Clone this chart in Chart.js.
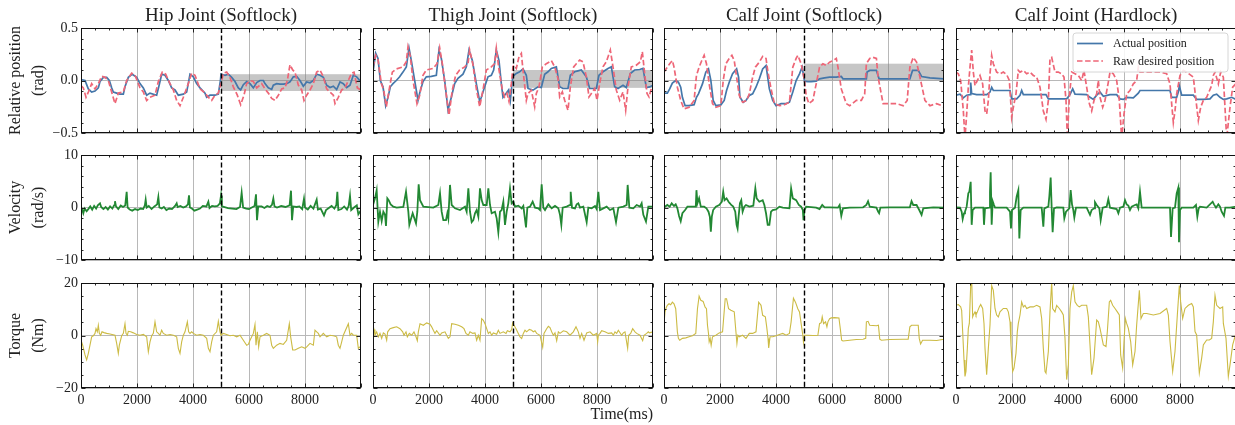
<!DOCTYPE html>
<html><head><meta charset="utf-8">
<script src="https://cdn.jsdelivr.net/npm/chart.js@4.4.0/dist/chart.umd.min.js"></script>
<style>
html,body{margin:0;padding:0;background:#fff;overflow:hidden;width:1235px;height:425px;position:relative;}
canvas{position:absolute;left:0;top:0;}
</style></head><body>
<script>
// ---------------- DATA ----------------
const jointTitles = ['Hip Joint (Softlock)', 'Thigh Joint (Softlock)', 'Calf Joint (Softlock)', 'Calf Joint (Hardlock)'];
const rowLabels = [['Relative position', '(rad)'], ['Velocity', '(rad/s)'], ['Torque', '(Nm)']];
const seriesLabels = ['Actual position', 'Raw desired position'];
const timeTicks = [0, 2000, 4000, 6000, 8000];
const timeTickLabels = ['0', '2000', '4000', '6000', '8000'];
const posTicks = [-0.5, 0, 0.5];
const posTickLabels = ['\u22120.5', '0.0', '0.5'];
const velTicks = [-10, 0, 10];
const velTickLabels = ['\u221210', '0', '10'];
const torTicks = [-20, 0, 20];
const torTickLabels = ['\u221220', '0', '20'];
const lockTime = 5000;
const softlockBands = [[-0.10, 0.06], [-0.07, 0.10], [0.0, 0.16], null];

// [time ms, value]
const hipPosActual = [[0,0.01],[143,0.0],[262,-0.08],[381,-0.11],[500,-0.10],[619,-0.07],[679,-0.01],[798,0.03],[917,0.03],[1012,0.0],[1095,-0.07],[1155,-0.11],[1274,-0.12],[1393,-0.13],[1512,-0.13],[1571,-0.06],[1690,0.03],[1833,0.06],[1988,0.03],[2107,-0.03],[2226,-0.07],[2345,-0.14],[2464,-0.12],[2702,-0.14],[2786,-0.05],[2881,0.06],[3000,0.05],[3119,0.0],[3238,-0.07],[3357,-0.09],[3476,-0.14],[3655,-0.13],[3774,-0.11],[3893,0.06],[4012,0.035],[4131,-0.03],[4250,-0.07],[4429,-0.12],[4488,-0.16],[4607,-0.14],[4786,-0.14],[4905,-0.13],[4980,0.0],[5000,0.06],[5143,0.05],[5262,0.06],[5381,0.03],[5500,-0.01],[5619,-0.07],[5702,-0.09],[5798,-0.04],[5917,-0.01],[6036,-0.03],[6155,-0.07],[6274,-0.02],[6393,0.0],[6512,0.0],[6571,-0.03],[6690,-0.07],[6810,-0.085],[6869,-0.045],[6988,-0.03],[7107,-0.035],[7226,-0.035],[7345,-0.03],[7464,-0.013],[7583,0.035],[7702,0.04],[7821,0.0],[7940,-0.055],[8060,-0.013],[8179,-0.022],[8298,0.0],[8417,0.06],[8536,0.05],[8655,0.03],[8774,-0.045],[8893,-0.067],[9012,-0.054],[9131,-0.086],[9250,-0.013],[9369,-0.03],[9488,-0.067],[9607,-0.045],[9726,0.05],[9845,0.035],[10000,-0.013]];
const hipPosDesired = [[0,-0.05],[83,-0.07],[179,-0.16],[262,-0.11],[381,-0.03],[500,-0.08],[619,-0.03],[738,0.04],[857,0.03],[976,0.0],[1095,-0.11],[1214,-0.22],[1333,-0.12],[1512,-0.11],[1631,0.0],[1810,0.07],[1929,0.05],[2107,-0.07],[2226,-0.11],[2345,-0.19],[2464,-0.16],[2643,-0.14],[2762,-0.01],[2905,0.08],[3024,0.06],[3179,-0.03],[3298,-0.09],[3417,-0.19],[3536,-0.24],[3655,-0.16],[3833,-0.03],[3952,0.07],[4071,0.05],[4250,-0.08],[4429,-0.12],[4548,-0.16],[4667,-0.19],[4786,-0.14],[4905,-0.12],[5000,-0.03],[5083,0.07],[5202,0.08],[5321,0.03],[5440,-0.06],[5583,-0.14],[5702,-0.23],[5821,-0.14],[5917,-0.03],[6036,0.0],[6155,-0.01],[6274,-0.07],[6452,-0.03],[6571,-0.08],[6690,-0.12],[6810,-0.17],[6929,-0.19],[7048,-0.14],[7167,-0.08],[7286,-0.07],[7369,0.0],[7464,0.15],[7560,0.10],[7643,0.08],[7762,-0.045],[7881,-0.09],[7964,-0.19],[8060,-0.14],[8179,-0.09],[8298,-0.03],[8417,0.08],[8536,0.10],[8655,0.035],[8774,-0.08],[8893,-0.11],[9012,-0.14],[9071,-0.22],[9190,-0.16],[9310,-0.09],[9429,-0.07],[9548,0.0],[9667,0.07],[9750,0.08],[9869,-0.07],[10000,-0.09]];
const thighPosActual = [[0,0.08],[95,0.26],[179,0.21],[262,0.0],[357,-0.06],[452,-0.24],[536,-0.16],[619,-0.06],[714,-0.03],[833,0.0],[952,0.035],[1071,0.08],[1190,0.13],[1286,0.31],[1369,0.19],[1488,0.0],[1607,-0.19],[1667,-0.12],[1786,-0.01],[1905,0.035],[2083,0.04],[2262,0.05],[2357,0.29],[2440,0.21],[2560,0.0],[2679,-0.28],[2798,-0.16],[2917,-0.03],[3036,0.02],[3214,0.06],[3333,0.13],[3429,0.29],[3548,0.19],[3690,-0.03],[3810,-0.2],[3869,-0.16],[3988,-0.06],[4107,0.035],[4226,0.05],[4310,0.1],[4405,0.29],[4500,0.19],[4583,-0.03],[4643,-0.16],[4762,-0.12],[4845,-0.09],[4905,-0.19],[4976,0.0],[5000,0.04],[5119,0.067],[5238,0.083],[5357,0.11],[5476,0.05],[5536,-0.076],[5714,-0.092],[5893,-0.06],[6012,-0.067],[6131,0.06],[6250,0.083],[6369,0.115],[6548,0.13],[6667,-0.06],[6786,-0.076],[6964,-0.076],[7048,0.05],[7202,0.083],[7321,0.092],[7440,0.1],[7619,0.035],[7738,-0.076],[7976,-0.076],[8071,0.05],[8214,0.083],[8393,0.115],[8512,0.13],[8631,-0.06],[8750,-0.076],[8929,-0.045],[9048,-0.067],[9190,0.067],[9345,0.1],[9524,0.105],[9643,0.115],[9762,-0.067],[9881,-0.061],[10000,-0.045]];
const thighPosDesired = [[0,0.13],[95,0.24],[179,0.2],[298,-0.03],[381,-0.09],[476,-0.25],[595,-0.06],[690,0.08],[833,0.11],[1071,0.13],[1190,0.18],[1250,0.32],[1333,0.23],[1429,0.0],[1571,-0.22],[1667,-0.14],[1786,0.05],[1905,0.1],[2143,0.115],[2286,0.16],[2381,0.31],[2476,0.16],[2595,-0.09],[2714,-0.33],[2833,-0.09],[2952,0.05],[3095,0.1],[3274,0.13],[3393,0.16],[3452,0.29],[3571,0.15],[3690,-0.077],[3810,-0.25],[3929,-0.09],[4048,0.1],[4226,0.13],[4345,0.16],[4405,0.306],[4500,0.1],[4619,-0.09],[4702,-0.156],[4786,-0.124],[4857,-0.2],[4940,-0.03],[5000,0.13],[5036,0.146],[5119,0.115],[5214,0.226],[5298,0.258],[5357,0.1],[5476,-0.19],[5536,-0.124],[5655,-0.092],[5774,-0.25],[5833,-0.124],[5929,-0.06],[6048,0.13],[6190,0.16],[6310,0.178],[6369,0.19],[6488,0.13],[6607,0.02],[6667,-0.156],[6762,-0.108],[6845,-0.188],[6964,-0.283],[7048,-0.06],[7167,0.13],[7262,0.16],[7381,0.194],[7500,0.178],[7619,0.035],[7714,-0.156],[7798,-0.124],[7917,-0.076],[8000,-0.188],[8095,-0.03],[8214,0.13],[8333,0.178],[8476,0.29],[8571,0.13],[8690,-0.092],[8810,-0.188],[8929,-0.108],[9024,-0.283],[9107,-0.06],[9226,0.13],[9405,0.146],[9548,0.178],[9619,0.274],[9702,0.067],[9786,-0.124],[9857,-0.156],[9940,-0.076],[10000,-0.061]];
const calfPosActual = [[0,-0.12],[119,-0.12],[203,-0.08],[299,-0.025],[418,0.0],[514,-0.016],[597,-0.064],[657,-0.16],[753,-0.24],[896,-0.24],[1075,-0.23],[1159,-0.16],[1231,-0.127],[1374,-0.032],[1493,0.08],[1589,0.11],[1673,0.0],[1756,-0.19],[1852,-0.24],[2031,-0.232],[2150,-0.19],[2234,-0.096],[2330,-0.016],[2449,0.064],[2593,0.11],[2664,0.032],[2712,-0.16],[2831,-0.207],[2927,-0.19],[3047,-0.143],[3166,-0.127],[3285,-0.064],[3405,0.016],[3524,0.11],[3644,0.143],[3763,-0.08],[3883,-0.19],[4002,-0.24],[4182,-0.22],[4361,-0.22],[4480,-0.207],[4600,-0.11],[4719,0.0],[4839,0.064],[4934,0.127],[5018,-0.006],[5137,-0.01],[5257,-0.01],[5436,-0.006],[5555,0.016],[5735,0.025],[5914,0.032],[6153,0.032],[6332,0.038],[6392,0.016],[6631,0.016],[7228,0.016],[7252,0.08],[7348,0.096],[7586,0.096],[7682,0.016],[8064,0.016],[8781,0.016],[8877,0.096],[9080,0.096],[9199,0.038],[9498,0.025],[10000,0.016]];
const calfPosDesired = [[0,0.08],[119,0.127],[203,0.16],[299,0.19],[358,0.127],[478,-0.064],[597,-0.19],[717,-0.27],[896,-0.255],[1075,-0.19],[1159,0.048],[1254,0.127],[1350,0.19],[1434,0.24],[1517,0.16],[1613,-0.032],[1732,-0.22],[1852,-0.255],[2031,-0.24],[2115,0.0],[2210,0.16],[2330,0.21],[2425,0.24],[2509,0.19],[2593,0.032],[2688,-0.143],[2808,-0.207],[2951,-0.19],[3047,-0.127],[3166,0.032],[3262,0.127],[3405,0.175],[3524,0.23],[3644,0.21],[3704,0.096],[3823,-0.08],[3943,-0.22],[4122,-0.24],[4301,-0.23],[4480,-0.207],[4600,0.127],[4719,0.21],[4779,0.24],[4898,0.16],[5018,0.0],[5078,-0.143],[5173,-0.22],[5316,-0.19],[5436,-0.032],[5555,0.127],[5675,0.16],[5794,0.143],[5914,0.175],[6033,0.19],[6153,0.21],[6213,0.127],[6332,-0.08],[6511,-0.22],[6631,-0.24],[6870,-0.19],[7049,-0.19],[7168,-0.127],[7228,0.16],[7348,0.21],[7467,0.22],[7586,0.21],[7646,0.032],[7825,-0.22],[8064,-0.22],[8303,-0.22],[8542,-0.24],[8686,-0.19],[8781,0.127],[8901,0.22],[9020,0.175],[9140,0.032],[9319,-0.19],[9498,-0.24],[9737,-0.22],[9916,-0.24],[10000,-0.255]];
const calfHardPosActual = [[0,-0.14],[143,-0.13],[262,-0.165],[381,-0.14],[500,-0.135],[524,-0.02],[560,-0.125],[738,-0.135],[1095,-0.135],[1214,-0.11],[1274,-0.065],[1333,-0.095],[1810,-0.095],[1929,-0.095],[1988,-0.175],[2167,-0.175],[2286,-0.14],[2345,-0.095],[2405,-0.135],[3000,-0.135],[3214,-0.135],[3298,-0.175],[3952,-0.175],[4071,-0.135],[4167,-0.08],[4250,-0.13],[4667,-0.135],[4786,-0.16],[4905,-0.18],[5024,-0.14],[5143,-0.11],[5262,-0.15],[5500,-0.135],[5738,-0.135],[5857,-0.175],[5976,-0.18],[6095,-0.16],[6333,-0.165],[6512,-0.12],[6571,-0.095],[7167,-0.095],[7643,-0.095],[7702,-0.16],[7881,-0.16],[7940,-0.11],[7976,-0.05],[8060,-0.14],[8476,-0.14],[8595,-0.18],[8833,-0.18],[9071,-0.175],[9190,-0.14],[9310,-0.13],[9429,-0.16],[9548,-0.18],[9667,-0.175],[9845,-0.16],[10000,-0.18]];
const calfHardPosDesired = [[0,0.08],[83,0.064],[167,0.0],[262,-0.29],[321,-0.55],[381,-0.32],[440,-0.064],[500,0.127],[560,0.29],[619,0.08],[679,-0.048],[762,0.0],[857,0.048],[952,-0.032],[1036,-0.29],[1095,-0.32],[1155,-0.19],[1214,0.064],[1274,0.24],[1333,0.16],[1452,0.08],[1571,0.064],[1690,0.08],[1810,0.056],[1905,0.0],[1952,-0.19],[1988,-0.35],[2048,-0.255],[2143,-0.127],[2226,0.096],[2286,0.08],[2405,0.096],[2524,0.064],[2643,0.08],[2762,0.048],[2881,0.032],[3000,-0.064],[3119,-0.29],[3214,-0.37],[3298,-0.19],[3357,0.21],[3417,0.22],[3536,0.08],[3655,0.08],[3774,0.064],[3857,0.032],[3929,-0.19],[3976,-0.55],[4048,-0.16],[4131,0.08],[4250,0.064],[4369,0.048],[4488,0.0],[4571,0.096],[4667,-0.064],[4762,-0.22],[4845,-0.29],[4929,-0.19],[5024,-0.127],[5083,0.0],[5143,-0.16],[5238,-0.255],[5321,-0.19],[5440,-0.016],[5500,0.08],[5619,0.064],[5738,0.0],[5833,-0.19],[5917,-0.55],[6000,-0.32],[6095,-0.127],[6214,-0.096],[6333,-0.032],[6452,0.0],[6512,0.127],[6571,0.08],[6750,0.08],[7048,0.08],[7286,0.08],[7524,0.064],[7643,-0.032],[7702,-0.22],[7762,-0.4],[7821,-0.29],[7881,-0.127],[8000,0.048],[8119,0.096],[8238,0.08],[8357,0.056],[8476,0.032],[8571,-0.19],[8655,-0.38],[8738,-0.255],[8833,-0.19],[8952,-0.16],[9131,-0.048],[9190,0.048],[9250,0.08],[9369,-0.032],[9452,0.08],[9548,0.032],[9667,-0.55],[9786,-0.255],[9881,-0.064],[10000,-0.03]];

const hipVel = [[0,0.0],[50,-0.5],[83,-1.1],[130,-0.2],[200,-0.7],[260,-0.3],[330,0.2],[400,-0.4],[470,0.3],[540,-0.2],[600,0.4],[679,0.8],[720,0.1],[800,-0.3],[880,0.1],[960,-0.4],[1040,0.2],[1120,-0.2],[1180,0.4],[1214,1.2],[1250,0.2],[1330,-0.3],[1420,0.4],[1500,0.1],[1580,0.4],[1631,3.0],[1665,0.0],[1740,-0.4],[1830,-0.6],[1930,-0.3],[2030,-0.5],[2130,-0.2],[2220,-0.3],[2280,0.4],[2310,1.5],[2345,0.0],[2420,0.3],[2520,-0.3],[2620,0.2],[2720,0.6],[2762,2.0],[2800,0.0],[2880,-0.2],[2960,0.1],[3050,-0.5],[3150,-0.2],[3250,-0.3],[3360,0.3],[3417,0.8],[3450,0.1],[3550,0.3],[3650,0.0],[3750,0.2],[3820,0.6],[3857,2.3],[3890,0.0],[3960,-0.2],[4050,-0.6],[4150,-0.4],[4250,-0.2],[4350,0.3],[4480,0.2],[4548,1.1],[4590,-0.1],[4680,0.3],[4780,0.2],[4880,0.3],[4960,0.8],[5000,2.3],[5030,0.2],[5100,0.1],[5250,-0.1],[5400,-0.2],[5550,-0.3],[5680,0.1],[5738,2.8],[5790,0.0],[5900,-0.2],[6000,-0.3],[6100,0.0],[6200,0.3],[6250,2.5],[6286,-2.4],[6330,0.2],[6450,0.2],[6550,-0.1],[6650,0.3],[6750,0.1],[6820,0.5],[6869,1.7],[6910,0.2],[7000,0.0],[7150,0.3],[7300,0.1],[7450,0.4],[7500,3.2],[7536,-2.4],[7580,0.2],[7700,0.1],[7800,0.2],[7900,-0.3],[7964,1.7],[8000,0.0],[8100,-0.4],[8200,0.3],[8300,-0.2],[8417,1.5],[8460,-0.4],[8560,-0.2],[8679,-1.5],[8750,-0.5],[8850,-0.1],[8950,0.3],[9050,-0.2],[9120,0.5],[9155,3.0],[9190,-0.5],[9300,-0.3],[9400,0.2],[9500,-0.4],[9560,0.3],[9607,2.2],[9650,-0.5],[9750,0.0],[9850,0.4],[9905,-1.3],[10000,-0.5]];
const thighVel = [[0,0.5],[71,1.75],[131,3.3],[190,-2.7],[250,-0.8],[310,-2.6],[369,-0.8],[429,-1.4],[464,-3.5],[512,1.75],[560,1.4],[631,0.6],[726,0.16],[845,-0.03],[1083,0.1],[1179,3.0],[1262,-0.8],[1298,-3.3],[1345,-2.4],[1417,-1.1],[1536,-3.0],[1583,-0.8],[1631,4.4],[1679,1.4],[1798,0.16],[2155,-0.03],[2333,0.48],[2393,2.7],[2452,-0.8],[2512,-2.4],[2607,-2.4],[2655,-1.1],[2690,-2.06],[2750,4.3],[2810,0.48],[2929,-0.16],[3107,-0.48],[3286,0.16],[3345,-0.8],[3405,3.65],[3464,-0.8],[3524,-2.8],[3583,-2.4],[3643,-1.1],[3702,-0.48],[3762,-1.75],[3821,3.65],[3881,1.4],[3940,0.48],[4060,0.48],[4119,3.65],[4179,0.48],[4238,-1.1],[4357,-0.8],[4417,-2.06],[4476,-4.7],[4536,-0.8],[4595,-0.48],[4655,1.1],[4714,-3.3],[4774,-0.8],[4833,0.8],[4893,3.65],[4952,0.8],[5012,1.1],[5071,0.16],[5190,0.35],[5310,-0.16],[5369,0.29],[5464,-3.8],[5512,-0.03],[5607,0.16],[5702,1.1],[5786,-0.03],[5905,-0.16],[5964,-0.48],[6024,4.4],[6083,-0.03],[6143,-0.48],[6262,0.6],[6381,-0.16],[6500,0.29],[6619,-0.16],[6679,-1.4],[6726,-3.3],[6774,-0.03],[6917,0.16],[7036,0.48],[7060,3.0],[7107,-0.03],[7214,-0.16],[7274,0.6],[7333,0.8],[7393,-0.03],[7512,0.16],[7631,-2.8],[7690,-0.03],[7810,-0.16],[7929,0.29],[7988,-0.29],[8048,3.0],[8107,-0.48],[8226,-0.16],[8345,0.16],[8464,-0.48],[8583,-0.16],[8679,-2.8],[8762,-0.03],[8940,0.16],[9060,0.48],[9095,4.3],[9155,-0.03],[9298,-0.16],[9417,0.48],[9536,0.16],[9595,0.8],[9655,-1.4],[9750,-2.7],[9833,0.16],[10000,0.16]];
const calfVel = [[0,0.0],[119,0.48],[203,0.16],[275,0.8],[358,0.29],[418,0.6],[478,-0.16],[538,-1.6],[597,-2.6],[657,-1.1],[753,-0.48],[836,0.16],[1015,0.16],[1135,0.16],[1159,3.3],[1195,0.8],[1254,1.75],[1314,0.16],[1434,0.16],[1517,-0.16],[1589,-0.8],[1637,-1.75],[1673,-4.6],[1708,-1.75],[1756,-0.48],[1852,0.16],[1971,0.48],[2067,1.1],[2115,3.0],[2162,1.4],[2234,1.75],[2306,1.1],[2354,0.8],[2401,0.48],[2473,0.16],[2545,-0.8],[2593,-3.3],[2628,-4.0],[2664,-1.75],[2712,0.8],[2760,1.4],[2808,-0.8],[2867,0.16],[2927,0.48],[3047,0.16],[3190,0.35],[3262,3.65],[3309,1.75],[3405,1.1],[3524,1.4],[3584,0.48],[3644,-1.1],[3704,-3.3],[3763,-3.3],[3823,-0.8],[3883,-0.48],[4002,-0.35],[4122,0.16],[4241,-0.03],[4480,-0.16],[4540,3.65],[4600,1.75],[4719,1.4],[4815,0.48],[4898,0.16],[4958,-0.48],[4982,-2.4],[5018,-0.48],[5078,0.16],[5436,-0.03],[5555,-0.29],[5651,0.48],[5735,0.03],[5914,0.03],[6213,-0.03],[6272,0.48],[6332,-1.6],[6392,-0.16],[6631,-0.03],[7109,0.03],[7228,0.48],[7288,1.2],[7348,0.16],[7586,-0.03],[7646,-0.8],[7682,-1.1],[7730,-0.03],[8064,0.03],[8781,0.03],[8841,1.2],[8901,0.48],[9020,0.48],[9116,-0.48],[9199,-1.4],[9259,-0.16],[9617,0.03],[10000,-0.03]];
const calfHardVel = [[0,0.03],[143,-0.03],[202,-0.8],[238,-2.2],[286,-1.1],[321,-0.8],[381,0.16],[440,2.7],[476,3.0],[524,4.9],[560,-3.3],[595,-0.48],[679,-0.03],[976,-0.03],[1000,-3.3],[1036,-0.16],[1190,-0.03],[1214,3.0],[1238,6.7],[1274,-3.3],[1310,1.2],[1357,0.48],[1393,-0.03],[1810,-0.03],[1929,-0.8],[1964,-4.0],[2000,-0.48],[2107,-0.03],[2167,2.1],[2226,3.3],[2262,-5.9],[2310,-0.48],[2405,-0.03],[3060,-0.03],[3119,-3.65],[3155,-0.16],[3298,0.16],[3333,2.1],[3381,5.7],[3417,-0.03],[3452,-4.7],[3500,-0.16],[3595,0.03],[3833,-0.03],[3869,-2.06],[3929,-0.8],[4048,-0.16],[4095,3.3],[4143,0.6],[4190,-0.48],[4226,-1.9],[4286,-0.03],[4667,-0.03],[4786,-1.4],[4845,-0.48],[4929,-0.16],[4964,1.0],[5024,0.48],[5119,-0.16],[5167,-2.4],[5238,-0.03],[5381,0.16],[5440,1.6],[5500,-0.03],[5738,-0.29],[5798,-1.1],[5857,-0.03],[5976,0.16],[6036,1.4],[6095,0.6],[6155,0.35],[6214,-0.48],[6274,0.16],[6393,0.48],[6452,0.6],[6512,-0.16],[6571,3.0],[6631,-0.03],[7048,-0.03],[7643,-0.03],[7679,-5.6],[7738,-0.16],[7821,-0.03],[7881,2.7],[7940,3.8],[7964,-6.6],[8000,-0.48],[8060,-0.03],[8476,-0.03],[8571,0.48],[8619,-1.75],[8667,-0.16],[8714,0.16],[8952,-0.03],[9167,1.1],[9214,0.6],[9286,-0.03],[9369,0.6],[9429,0.16],[9488,-0.8],[9571,-1.6],[9619,-0.03],[9786,-0.03],[10000,0.16]];

const hipTorque = [[0,-1.8],[60,-3.7],[143,-7.4],[202,-9.3],[262,-6.8],[321,-3.7],[381,-0.5],[440,-0.1],[500,0.8],[536,2.6],[583,1.4],[619,3.9],[655,0.8],[702,0.1],[750,1.4],[821,1.1],[917,0.8],[1036,0.6],[1214,0.1],[1274,-3.0],[1333,-6.8],[1369,-3.7],[1452,-0.1],[1512,0.8],[1571,4.5],[1607,0.8],[1655,0.1],[1690,1.6],[1774,1.4],[1869,1.0],[1988,0.4],[2107,0.1],[2226,0.4],[2345,-0.5],[2405,-6.2],[2464,-2.4],[2524,-0.1],[2583,0.8],[2643,5.2],[2702,1.4],[2762,0.8],[2821,0.1],[2881,2.0],[2940,0.8],[3060,0.1],[3179,0.4],[3298,0.1],[3417,-0.5],[3476,-4.9],[3536,-6.8],[3595,-2.4],[3655,0.1],[3714,1.4],[3798,5.2],[3845,1.4],[3893,0.8],[3952,1.4],[4012,0.8],[4131,0.1],[4250,0.4],[4369,0.1],[4488,-1.1],[4548,-4.9],[4607,-6.2],[4667,-2.4],[4726,0.1],[4845,1.4],[4905,5.4],[4964,1.4],[5000,0.1],[5083,0.8],[5202,0.4],[5321,-0.1],[5440,0.1],[5560,-0.5],[5679,0.1],[5798,-1.8],[5917,-3.7],[5976,-3.4],[6036,-1.8],[6155,0.8],[6214,4.2],[6250,-3.7],[6298,1.4],[6345,-4.3],[6393,-0.5],[6512,0.1],[6631,0.8],[6750,0.1],[6810,-3.7],[6869,-4.9],[6988,-3.7],[7107,-3.0],[7226,-3.4],[7345,-1.8],[7440,4.5],[7488,-0.5],[7560,-5.5],[7643,-5.5],[7762,-4.9],[7881,-4.3],[8000,-4.9],[8060,-4.3],[8179,-3.0],[8298,-3.7],[8357,2.0],[8417,1.4],[8476,0.8],[8536,-0.5],[8595,0.1],[8655,0.8],[8774,-0.5],[8893,0.1],[9012,-0.1],[9131,-0.5],[9190,-3.7],[9250,-4.9],[9310,-2.4],[9369,0.1],[9548,4.5],[9607,0.1],[9667,0.8],[9726,0.1],[9845,0.1],[9905,-4.9],[9964,-4.3],[10000,-3.7]];
const thighTorque = [[0,3.9],[36,2.3],[71,0.1],[131,1.4],[190,-0.5],[250,0.8],[310,-1.1],[369,1.0],[429,0.5],[488,-1.8],[524,1.4],[607,2.6],[726,3.0],[845,3.3],[964,2.6],[1060,1.4],[1107,0.1],[1179,1.4],[1226,-0.5],[1298,0.8],[1381,0.1],[1464,1.4],[1536,-0.5],[1583,-2.0],[1619,1.4],[1679,4.5],[1798,3.9],[1917,4.8],[2036,4.3],[2095,3.3],[2155,2.0],[2214,0.8],[2274,1.8],[2393,0.1],[2452,1.0],[2571,1.4],[2631,0.1],[2690,-1.1],[2750,-0.5],[2810,4.5],[2929,4.3],[3048,3.9],[3167,3.3],[3250,2.6],[3321,0.8],[3405,0.1],[3464,1.4],[3560,0.8],[3643,1.0],[3702,-1.8],[3762,0.1],[3821,-1.8],[3881,6.4],[3940,5.8],[4000,4.5],[4060,2.6],[4119,0.8],[4179,1.4],[4238,0.1],[4298,1.0],[4417,0.5],[4476,2.0],[4536,0.8],[4655,1.4],[4750,0.8],[4798,1.8],[4893,1.4],[4952,2.3],[4988,4.8],[5036,3.9],[5107,2.6],[5190,0.8],[5250,-0.5],[5310,-1.1],[5369,0.8],[5429,2.0],[5488,1.4],[5583,2.3],[5667,2.0],[5726,1.4],[5786,1.8],[5845,0.8],[5964,0.1],[6060,-4.5],[6107,0.8],[6202,2.6],[6262,3.5],[6321,3.0],[6381,1.4],[6440,0.1],[6500,1.0],[6560,-2.0],[6619,1.4],[6679,0.8],[6798,1.8],[6917,1.4],[7036,0.1],[7155,1.4],[7250,3.3],[7333,1.4],[7393,-1.1],[7452,0.8],[7536,-1.8],[7631,1.0],[7750,1.4],[7869,0.1],[7988,0.8],[8024,-2.4],[8048,0.1],[8107,0.8],[8167,1.8],[8286,1.4],[8405,0.8],[8524,1.0],[8583,0.1],[8643,1.4],[8702,0.8],[8762,2.0],[8881,0.1],[8940,1.0],[9000,1.4],[9095,-4.9],[9131,0.1],[9202,0.8],[9274,2.6],[9357,1.4],[9417,0.8],[9536,0.1],[9631,-2.0],[9679,0.1],[9774,0.8],[9833,1.4],[9869,1.0],[10000,1.4]];
const calfTorque = [[0,4.5],[36,9.0],[84,10.8],[119,11.5],[179,12.1],[239,11.7],[299,12.7],[358,12.1],[418,10.2],[478,1.4],[514,-1.1],[562,-1.8],[657,-1.1],[777,-0.9],[896,-0.5],[1015,-0.1],[1135,0.8],[1195,10.2],[1254,15.0],[1314,13.4],[1398,13.0],[1469,10.8],[1517,10.2],[1553,3.9],[1589,0.8],[1613,-2.4],[1649,-1.1],[1684,-3.7],[1732,-0.5],[1852,0.1],[1971,1.0],[2091,1.4],[2186,14.0],[2234,14.0],[2306,10.2],[2389,9.6],[2509,9.0],[2569,1.4],[2604,-3.0],[2640,0.1],[2688,-0.5],[2808,0.1],[2927,-1.1],[3047,0.8],[3166,0.8],[3285,1.4],[3381,12.7],[3465,11.5],[3524,7.7],[3620,7.1],[3668,3.3],[3715,-1.1],[3739,-4.7],[3787,-0.5],[3883,-0.5],[4002,-0.1],[4122,0.4],[4241,0.8],[4361,0.1],[4480,0.8],[4540,5.2],[4623,14.2],[4695,12.7],[4779,10.2],[4839,9.0],[4898,4.5],[4958,0.1],[4982,-2.6],[5018,0.1],[5137,0.1],[5316,0.0],[5495,0.1],[5555,4.5],[5615,4.9],[5651,7.1],[5699,4.5],[5770,5.2],[5818,3.3],[5854,5.2],[5914,6.4],[5973,6.7],[6093,6.8],[6248,6.7],[6296,2.6],[6344,-1.8],[6392,-2.1],[6631,-1.8],[6870,-1.5],[7109,-1.4],[7204,-1.1],[7228,5.2],[7288,5.4],[7348,3.9],[7586,3.7],[7658,3.9],[7706,-1.4],[7766,-1.8],[8064,-1.5],[8542,-1.4],[8721,-1.4],[8781,3.3],[8841,3.9],[9020,3.9],[9080,3.9],[9116,-1.1],[9164,-3.2],[9235,-1.8],[9498,-1.8],[9737,-1.9],[10000,-1.4]];
const calfHardTorque = [[0,11.5],[83,11.8],[167,10.9],[202,9.6],[238,1.5],[286,-9.3],[321,-15.6],[357,-13.7],[405,-4.9],[440,2.7],[476,4.6],[524,19.0],[560,21.6],[595,7.1],[619,7.8],[679,9.0],[714,7.8],[762,9.0],[833,10.9],[881,11.8],[952,10.3],[1000,4.6],[1036,-4.9],[1095,-14.9],[1155,-4.9],[1214,4.0],[1274,19.0],[1333,17.2],[1393,10.3],[1452,7.8],[1512,7.1],[1571,9.0],[1690,10.3],[1810,10.3],[1869,9.0],[1929,5.2],[1964,-3.6],[2024,-13.7],[2071,-12.4],[2143,-6.7],[2190,1.5],[2226,4.6],[2286,7.8],[2345,12.8],[2405,10.9],[2464,11.5],[2524,10.3],[2643,10.9],[2762,10.9],[2881,11.5],[3000,10.9],[3060,6.5],[3119,-4.9],[3179,-13.7],[3214,-14.3],[3298,-6.1],[3357,9.0],[3417,20.4],[3452,10.3],[3536,9.0],[3595,11.5],[3690,10.3],[3774,9.0],[3833,7.8],[3893,-1.1],[3952,-16.8],[4012,-11.2],[4071,10.3],[4131,16.5],[4190,19.0],[4250,12.8],[4333,11.5],[4405,10.9],[4488,11.5],[4571,11.5],[4667,11.5],[4726,7.1],[4786,-3.6],[4845,-14.9],[4929,-8.6],[5024,5.9],[5083,5.2],[5143,2.7],[5262,-3.6],[5357,-4.2],[5405,1.5],[5476,12.8],[5524,13.4],[5595,11.5],[5679,10.3],[5762,9.0],[5833,7.8],[5881,-7.4],[5952,-12.4],[6000,-2.3],[6048,6.5],[6095,4.6],[6155,2.7],[6238,-2.3],[6310,-11.2],[6393,-6.1],[6452,4.0],[6548,17.2],[6607,6.5],[6690,8.4],[6810,8.4],[7048,7.8],[7286,8.4],[7524,10.3],[7583,7.8],[7643,-2.3],[7738,-13.7],[7821,-6.1],[7905,7.8],[7976,19.0],[8024,12.8],[8095,6.5],[8179,10.3],[8298,11.5],[8417,12.2],[8476,10.9],[8536,1.5],[8595,0.2],[8690,-14.3],[8774,-8.6],[8833,-3.6],[8952,-1.7],[9048,-1.7],[9131,-1.1],[9190,5.2],[9250,15.3],[9310,11.5],[9429,10.3],[9524,10.9],[9548,4.6],[9643,-1.1],[9726,-15.6],[9786,-11.2],[9881,-3.6],[10000,1.0]];

const positionActual = [hipPosActual, thighPosActual, calfPosActual, calfHardPosActual];
const positionDesired = [hipPosDesired, thighPosDesired, calfPosDesired, calfHardPosDesired];
const velocities = [hipVel, thighVel, calfVel, calfHardVel];
const torques = [hipTorque, thighTorque, calfTorque, calfHardTorque];

// ---------------- STYLE / LAYOUT ----------------
const FONT = "'Liberation Serif', 'DejaVu Serif', serif";
const TEXT = '#222';
const GRID = '#b8b8b8';
const C_BLUE = '#4477AA', C_PINK = '#EE6677', C_GREEN = '#228833', C_YELLOW = '#CCBB44';
const CW = 1240, CH = 425;
const colLeft = [81, 373, 664, 956], colW = 280;
const rowTop = [28, 155, 283], rowH = 105;
const yW = 81, xH = 37;

const rowCfg = [
  {min: -0.5, max: 0.5, ticks: posTicks, labels: posTickLabels, minor: 0.1},
  {min: -10, max: 10, ticks: velTicks, labels: velTickLabels, minor: 2},
  {min: -20, max: 20, ticks: torTicks, labels: torTickLabels, minor: 5}
];

const decor = {
  id: 'decor',
  beforeDatasetsDraw(chart, args, o) {
    const {ctx, chartArea: a} = chart;
    const xs = chart.scales.x, ys = chart.scales.y;
    if (o.band) {
      ctx.save();
      ctx.fillStyle = 'rgba(128,128,128,0.45)';
      const x0 = xs.getPixelForValue(lockTime), x1 = a.right;
      const y0 = ys.getPixelForValue(o.band[1]), y1 = ys.getPixelForValue(o.band[0]);
      ctx.fillRect(x0, y0, x1 - x0, y1 - y0);
      ctx.restore();
    }
  },
  afterDatasetsDraw(chart, args, o) {
    const {ctx, chartArea: a} = chart;
    const xs = chart.scales.x, ys = chart.scales.y;
    ctx.save();
    if (o.lockLine) {
      const x = Math.round(xs.getPixelForValue(lockTime)) + 0.5;
      ctx.strokeStyle = '#000'; ctx.lineWidth = 1.4; ctx.setLineDash([5, 2.6]);
      ctx.beginPath(); ctx.moveTo(x, a.top); ctx.lineTo(x, a.bottom); ctx.stroke();
      ctx.setLineDash([]);
    }
    // frame
    const L = Math.round(a.left) + 0.5, R = Math.round(a.right) - 0.5, T = Math.round(a.top) + 0.5, B = Math.round(a.bottom) - 0.5;
    ctx.strokeStyle = '#111'; ctx.lineWidth = 1;
    ctx.strokeRect(L, T, R - L, B - T);
    // inward ticks
    ctx.lineWidth = 0.9;
    ctx.beginPath();
    for (let v = 0; v <= 10000 + 1e-6; v += 500) {
      const px = Math.round(xs.getPixelForValue(v)) + 0.5;
      const len = (v % 2000 === 0) ? 4 : 2;
      ctx.moveTo(px, B); ctx.lineTo(px, B - len);
      ctx.moveTo(px, T); ctx.lineTo(px, T + len);
    }
    const cfg = o.cfg;
    const n = Math.round((cfg.max - cfg.min) / cfg.minor);
    for (let i = 0; i <= n; i++) {
      const v = cfg.min + i * cfg.minor;
      const py = Math.round(ys.getPixelForValue(v)) + 0.5;
      const major = cfg.ticks.some(t => Math.abs(t - v) < 1e-6);
      const len = major ? 4 : 2;
      ctx.moveTo(L, py); ctx.lineTo(L + len, py);
      ctx.moveTo(R, py); ctx.lineTo(R - len, py);
    }
    ctx.stroke();
    // title
    if (o.title) {
      ctx.fillStyle = TEXT;
      ctx.font = '19px ' + FONT;
      ctx.textAlign = 'center'; ctx.textBaseline = 'alphabetic';
      ctx.fillText(o.title, (a.left + a.right) / 2, a.top - 7.5);
    }
    // legend
    if (o.legend) {
      const bw = 155, bh = 39;
      const bx = a.right - 8 - bw, by = a.top + 5;
      const r = 3;
      ctx.beginPath();
      ctx.moveTo(bx + r, by); ctx.lineTo(bx + bw - r, by); ctx.arcTo(bx + bw, by, bx + bw, by + r, r);
      ctx.lineTo(bx + bw, by + bh - r); ctx.arcTo(bx + bw, by + bh, bx + bw - r, by + bh, r);
      ctx.lineTo(bx + r, by + bh); ctx.arcTo(bx, by + bh, bx, by + bh - r, r);
      ctx.lineTo(bx, by + r); ctx.arcTo(bx, by, bx + r, by, r); ctx.closePath();
      ctx.fillStyle = 'rgba(255,255,255,0.85)'; ctx.fill();
      ctx.strokeStyle = '#d6d6d6'; ctx.lineWidth = 1; ctx.stroke();
      const ds = chart.data.datasets;
      const items = [ds.find(d => d.label === seriesLabels[0]), ds.find(d => d.label === seriesLabels[1])];
      items.forEach((d, i) => {
        const yy = by + 10.5 + i * 17.5;
        ctx.strokeStyle = d.borderColor; ctx.lineWidth = d.borderWidth;
        ctx.setLineDash(d.borderDash || []);
        ctx.beginPath(); ctx.moveTo(bx + 4, yy); ctx.lineTo(bx + 30, yy); ctx.stroke();
        ctx.setLineDash([]);
        ctx.fillStyle = TEXT; ctx.font = '12px ' + FONT;
        ctx.textAlign = 'left'; ctx.textBaseline = 'middle';
        ctx.fillText(d.label, bx + 40, yy + 0.5);
      });
    }
    ctx.restore();
  }
};

function makePanel(row, col) {
  const L = colLeft[col], R = L + colW, T = rowTop[row], B = T + rowH;
  const cv = document.createElement('canvas');
  cv.width = CW; cv.height = CH;
  cv.style.width = CW + 'px'; cv.style.height = CH + 'px';
  document.body.appendChild(cv);
  const cfg = rowCfg[row];
  let datasets;
  if (row === 0) {
    datasets = [
      {label: seriesLabels[0], data: positionActual[col], borderColor: C_BLUE, borderWidth: 1.7, order: 1},
      {label: seriesLabels[1], data: positionDesired[col], borderColor: C_PINK, borderWidth: 1.7, borderDash: [5.5, 2.6], order: 0}
    ];
  } else if (row === 1) {
    datasets = [{label: 'Velocity', data: velocities[col], borderColor: C_GREEN, borderWidth: 1.8}];
  } else {
    datasets = [{label: 'Torque', data: torques[col], borderColor: C_YELLOW, borderWidth: 1.1}];
  }
  datasets.forEach(d => { d.pointRadius = 0; d.tension = 0; d.fill = false; d.clip = 0; });

  new Chart(cv, {
    type: 'line',
    data: {datasets},
    options: {
      responsive: false, animation: false, devicePixelRatio: 1, events: [],
      layout: {padding: {left: L - yW, right: CW - R, top: T, bottom: CH - B - xH}},
      plugins: {
        legend: {display: false}, tooltip: {enabled: false}, title: {display: false},
        decor: {
          band: row === 0 ? softlockBands[col] : null,
          lockLine: col < 3,
          title: row === 0 ? jointTitles[col] : null,
          legend: row === 0 && col === 3,
          cfg
        }
      },
      scales: {
        x: {
          type: 'linear', min: 0, max: 10000,
          afterFit: s => { s.height = xH; },
          afterBuildTicks: s => { s.ticks = timeTicks.map(v => ({value: v})); },
          grid: {color: GRID, lineWidth: 1, drawTicks: false},
          border: {display: false},
          ticks: {display: row === 2, padding: 4, autoSkip: false, maxRotation: 0,
                  font: {family: FONT, size: 14}, color: TEXT,
                  callback: (v, i) => timeTickLabels[i]},
          title: {display: row === 2 && col === 1, text: 'Time(ms)', align: 'end',
                  font: {family: FONT, size: 16, lineHeight: 1.2}, color: TEXT, padding: {top: 0, bottom: 1}}
        },
        y: {
          type: 'linear', min: cfg.min, max: cfg.max,
          afterFit: s => { s.width = yW; },
          afterBuildTicks: s => { s.ticks = cfg.ticks.map(v => ({value: v})); },
          grid: {color: GRID, lineWidth: 1, drawTicks: false},
          border: {display: false},
          ticks: {display: col === 0, padding: 3, font: {family: FONT, size: 14}, color: TEXT,
                  callback: (v, i) => cfg.labels[i]},
          title: {display: col === 0, text: rowLabels[row], font: {family: FONT, size: 16, lineHeight: 1.44},
                  color: TEXT, padding: {top: 4.5, bottom: 0}}
        }
      }
    },
    plugins: [decor]
  });
}

for (let r = 0; r < 3; r++) for (let c = 0; c < 4; c++) makePanel(r, c);
</script>
</body></html>
